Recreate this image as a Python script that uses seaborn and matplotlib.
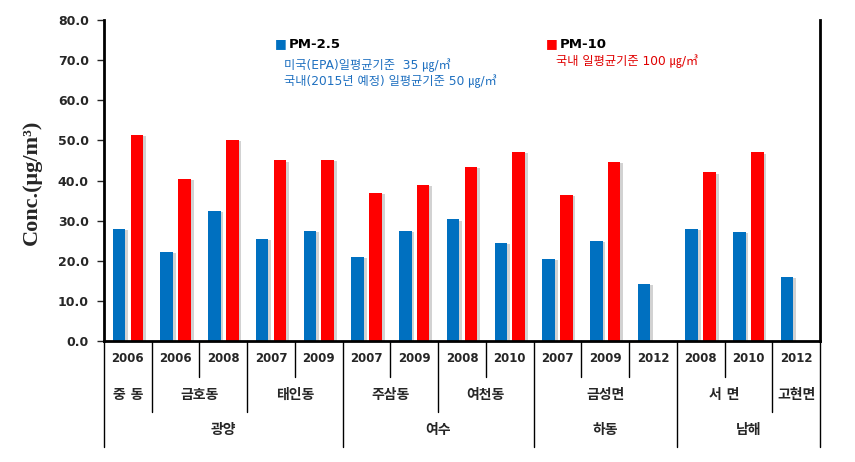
import numpy as np
import pandas as pd
import matplotlib
matplotlib.use('Agg')
import matplotlib.pyplot as plt
import matplotlib.patheffects as pe
import seaborn as sns

# Values
years = ['2006', '2006', '2008', '2007', '2009', '2007', '2009', '2008', '2010',
         '2007', '2009', '2012', '2008', '2010', '2012']
sites = ['중 동', '금호동', '금호동', '태인동', '태인동', '주삼동', '주삼동', '여천동', '여천동',
         '금성면', '금성면', '금성면', '서 면', '서 면', '고현면']
regions = ['광양'] * 5 + ['여수'] * 4 + ['하동'] * 3 + ['남해'] * 3
pm25 = [27.9, 22.2, 32.5, 25.4, 27.4, 21.0, 27.4, 30.3, 24.4,
        20.5, 24.9, 14.2, 27.9, 27.2, 16.0]
pm10 = [51.4, 40.4, 50.1, 45.0, 45.1, 37.0, 39.0, 43.4, 47.1,
        36.5, 44.7, np.nan, 42.0, 47.0, np.nan]

sns.set_style('white')
plt.rcParams['font.family'] = ['DejaVu Sans', 'Noto Sans CJK KR']

ids = [f'c{i}' for i in range(len(years))]
df = pd.DataFrame({
    'cat': ids * 2,
    'series': ['PM-2.5'] * len(ids) + ['PM-10'] * len(ids),
    'value': pm25 + pm10,
}).dropna()

fig = plt.figure(figsize=(8.55, 4.62), dpi=100)
ax = fig.add_axes([104 / 855, 1 - 341 / 462, (820 - 104) / 855, (341 - 20) / 462])

sns.barplot(data=df, x='cat', y='value', hue='series', order=ids,
            hue_order=['PM-2.5', 'PM-10'], palette=['#0070C0', '#FF0000'],
            saturation=1, width=0.75, gap=0.3, errorbar=None, legend=False,
            ax=ax, linewidth=0)

shadow = [pe.SimplePatchShadow(offset=(2, -1), shadow_rgbFace='#808080', alpha=0.35),
          pe.Normal()]
for p in ax.patches:
    p.set_path_effects(shadow)

ax.set_xlim(-0.5, len(ids) - 0.5)
ax.set_ylim(0, 80)
ax.set_yticks(np.arange(0, 81, 10))
ax.set_yticklabels([f'{v:.1f}' for v in np.arange(0, 81, 10)],
                   fontsize=9, fontweight='bold')
ax.tick_params(axis='y', direction='out', length=5, width=1, left=True, pad=6)
ax.set_xticks([])
ax.set_xlabel('')
ax.set_ylabel('')
ax.spines['top'].set_visible(False)
for s in ['left', 'bottom', 'right']:
    ax.spines[s].set_linewidth(2)
    ax.spines[s].set_color('black')

# category table under the axis
tr = ax.get_xaxis_transform()
row_y = [-0.112, -0.221, -0.330]
n = len(ids)
for i in range(n + 1):
    b = i - 0.5
    if i == 0 or i == n or (regions[i - 1] != regions[i]):
        y_end = row_y[2]
    elif sites[i - 1] != sites[i]:
        y_end = row_y[1]
    else:
        y_end = row_y[0]
    ax.plot([b, b], [0, y_end], color='black', lw=1, transform=tr, clip_on=False)

for i, yr in enumerate(years):
    ax.text(i, -0.056, yr, transform=tr, ha='center', va='center',
            fontsize=8.5, fontweight='bold')


def spans(labels):
    out = []
    start = 0
    for i in range(1, len(labels) + 1):
        if i == len(labels) or labels[i] != labels[start]:
            out.append((labels[start], start, i - 1))
            start = i
    return out


for name, a, b in spans(sites):
    ax.text((a + b) / 2, -0.168, name, transform=tr, ha='center', va='center',
            fontsize=10, fontweight='bold')
for name, a, b in spans(regions):
    ax.text((a + b) / 2, -0.277, name, transform=tr, ha='center', va='center',
            fontsize=10, fontweight='bold')

# legend-like annotations
def px(x, y):
    return x / 855, 1 - y / 462


fig.text(*px(275, 44), '■', color='#0070C0', fontsize=9, va='center')
fig.text(*px(289, 44), 'PM-2.5', color='black', fontsize=9.5, fontweight='bold', va='center')
fig.text(*px(284, 65), '미국(EPA)일평균기준  35 ㎍/㎥', color='#1F70C0', fontsize=8.8, va='center')
fig.text(*px(284, 81), '국내(2015년 예정) 일평균기준 50 ㎍/㎥', color='#1F70C0', fontsize=8.8, va='center')
fig.text(*px(546, 44), '■', color='#FF0000', fontsize=9, va='center')
fig.text(*px(560, 44), 'PM-10', color='black', fontsize=9.5, fontweight='bold', va='center')
fig.text(*px(556, 61), '국내 일평균기준 100 ㎍/㎥', color='#E00000', fontsize=8.8, va='center')

fig.text(*px(32, 182), 'Conc.(μg/m³)', rotation=90, ha='center', va='center',
         fontsize=16, fontweight='bold', family=['Liberation Serif', 'DejaVu Serif'])

fig.savefig('out.png', dpi=100)
